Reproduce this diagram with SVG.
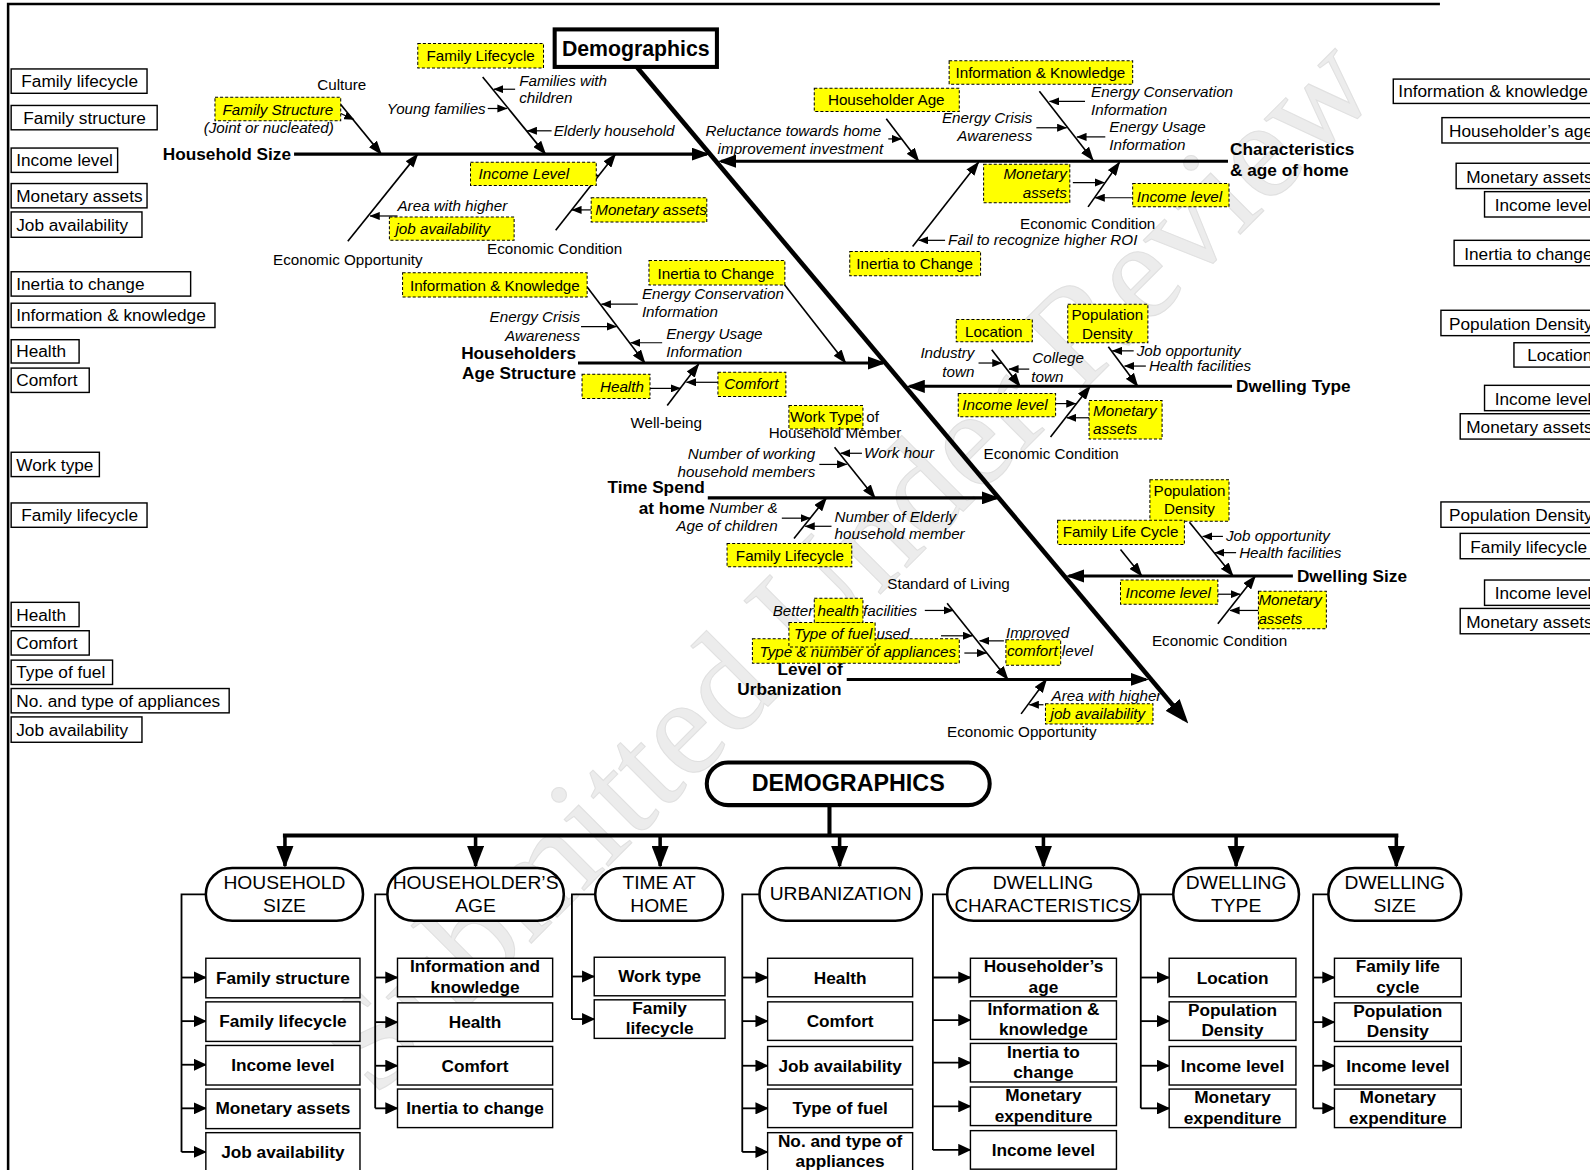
<svg xmlns="http://www.w3.org/2000/svg" width="1590" height="1170" viewBox="0 0 1590 1170">
<defs>
<style>
text{font-family:"Liberation Sans",Arial,Helvetica,sans-serif;fill:#000}
.f{font-size:15px}
.i{font-style:italic}
.b{font-weight:bold;font-size:17px}
.m{text-anchor:middle}
.e{text-anchor:end}
.y{fill:#ffff00;stroke:#000;stroke-width:1;stroke-dasharray:3 2}
.sb{fill:#fff;stroke:#000;stroke-width:1.4}
.st{font-size:17px}
.bb{fill:#fff;stroke:#000;stroke-width:1.4}
.bt{font-size:17px;font-weight:bold;text-anchor:middle}
.pill{fill:#fff;stroke:#000;stroke-width:2.5}
.pt{font-size:19px;text-anchor:middle}
.bone{stroke:#000;stroke-width:1.6;fill:none;marker-end:url(#ah)}
.sa{stroke:#000;stroke-width:1.2;fill:none;marker-end:url(#as)}
.br{stroke:#000;stroke-width:3;fill:none;marker-end:url(#am)}
.tr{stroke:#000;stroke-width:1.8;fill:none}
.ta{stroke:#000;stroke-width:1.8;fill:none;marker-end:url(#ab)}
.da{stroke:#000;stroke-width:3.5;fill:none;marker-end:url(#ad)}
</style>
<marker id="al" markerUnits="userSpaceOnUse" markerWidth="24" markerHeight="18" refX="18" refY="9" orient="auto"><path d="M0,0 L24,9 L0,18 z" fill="#000"/></marker>
<marker id="am" markerUnits="userSpaceOnUse" markerWidth="18" markerHeight="13" refX="15" refY="6.5" orient="auto"><path d="M0,0 L18,6.5 L0,13 z" fill="#000"/></marker>
<marker id="ah" markerUnits="userSpaceOnUse" markerWidth="14" markerHeight="10" refX="13" refY="5" orient="auto"><path d="M0,0 L14,5 L0,10 z" fill="#000"/></marker>
<marker id="as" markerUnits="userSpaceOnUse" markerWidth="10" markerHeight="8" refX="9.5" refY="4" orient="auto"><path d="M0,0 L10,4 L0,8 z" fill="#000"/></marker>
<marker id="ab" markerUnits="userSpaceOnUse" markerWidth="13" markerHeight="12" refX="12" refY="6" orient="auto"><path d="M0,0 L13,6 L0,12 z" fill="#000"/></marker>
<marker id="ad" markerUnits="userSpaceOnUse" markerWidth="22" markerHeight="17" refX="20" refY="8.5" orient="auto"><path d="M0,0 L22,8.5 L0,17 z" fill="#000"/></marker>
</defs>
<rect width="1590" height="1170" fill="#fff"/>
<g transform="scale(1.01403)">
<text x="0" y="0" transform="translate(866,588) rotate(-45)" text-anchor="middle" style="font-family:'Liberation Serif',serif;font-size:138px;fill:#ececec;stroke:#e0e0e0;stroke-width:1">Submitted Under Review</text>
<path d="M8,1170 V4 H1420" fill="none" stroke="#000" stroke-width="2.5"/>

<g id="connectors">
<line x1="628" y1="66" x2="1168" y2="709" stroke="#000" stroke-width="4.5" marker-end="url(#al)"/>
<line class="br" x1="290" y1="152" x2="697" y2="152"/>
<line class="br" x1="1211" y1="159" x2="711" y2="159"/>
<line class="br" x1="570" y1="358" x2="871" y2="358"/>
<line class="br" x1="1215" y1="381" x2="897" y2="381"/>
<line class="br" x1="698" y1="491" x2="983" y2="491"/>
<line class="br" x1="1275" y1="568" x2="1054" y2="568"/>
<line class="br" x1="835" y1="670" x2="1130" y2="670"/>
<line class="bone" x1="336" y1="103" x2="376" y2="152"/>
<line class="bone" x1="476" y1="76" x2="538" y2="152"/>
<line class="bone" x1="343" y1="238" x2="412" y2="152"/>
<line class="bone" x1="548" y1="227" x2="607" y2="152"/>
<line class="bone" x1="874" y1="117" x2="906" y2="159"/>
<line class="bone" x1="1025" y1="90" x2="1078" y2="158"/>
<line class="bone" x1="900" y1="243" x2="965" y2="160"/>
<line class="bone" x1="1073" y1="204" x2="1104" y2="160"/>
<line class="bone" x1="579" y1="283" x2="636" y2="358"/>
<line class="bone" x1="766" y1="271" x2="834" y2="358"/>
<line class="bone" x1="658" y1="400" x2="689" y2="359"/>
<line class="bone" x1="978" y1="345" x2="1006" y2="381"/>
<line class="bone" x1="1093" y1="342" x2="1122" y2="381"/>
<line class="bone" x1="1036" y1="431" x2="1075" y2="381"/>
<line class="bone" x1="823" y1="441" x2="863" y2="491"/>
<line class="bone" x1="783" y1="531" x2="815" y2="491"/>
<line class="bone" x1="1105" y1="542" x2="1126" y2="568"/>
<line class="bone" x1="1173" y1="515" x2="1216" y2="568"/>
<line class="bone" x1="1201" y1="615" x2="1238" y2="568"/>
<line class="bone" x1="934" y1="595" x2="994" y2="670"/>
<line class="bone" x1="1007" y1="704" x2="1032" y2="670"/>
<line class="sa" x1="336" y1="112" x2="349" y2="118"/>
<line class="sa" x1="508" y1="88" x2="487" y2="88"/>
<line class="sa" x1="481" y1="107" x2="500" y2="107"/>
<line class="sa" x1="544" y1="129" x2="520" y2="129"/>
<line class="sa" x1="392" y1="213" x2="365" y2="213"/>
<line class="sa" x1="563" y1="173" x2="590" y2="173"/>
<line class="sa" x1="583" y1="207" x2="564" y2="207"/>
<line class="sa" x1="876" y1="137" x2="889" y2="137"/>
<line class="sa" x1="1070" y1="100" x2="1035" y2="100"/>
<line class="sa" x1="1022" y1="126" x2="1052" y2="126"/>
<line class="sa" x1="1090" y1="135" x2="1062" y2="135"/>
<line class="sa" x1="932" y1="237" x2="906" y2="237"/>
<line class="sa" x1="1058" y1="180" x2="1089" y2="180"/>
<line class="sa" x1="1117" y1="195" x2="1080" y2="195"/>
<line class="sa" x1="629" y1="300" x2="593" y2="300"/>
<line class="sa" x1="573" y1="322" x2="608" y2="322"/>
<line class="sa" x1="653" y1="338" x2="622" y2="338"/>
<line class="sa" x1="641" y1="383" x2="671" y2="383"/>
<line class="sa" x1="708" y1="377" x2="677" y2="377"/>
<line class="sa" x1="965" y1="358" x2="988" y2="358"/>
<line class="sa" x1="1015" y1="364" x2="995" y2="364"/>
<line class="sa" x1="1118" y1="346" x2="1097" y2="346"/>
<line class="sa" x1="1130" y1="361" x2="1109" y2="361"/>
<line class="sa" x1="1041" y1="398" x2="1061" y2="398"/>
<line class="sa" x1="1074" y1="412" x2="1052" y2="412"/>
<line class="sa" x1="850" y1="447" x2="829" y2="447"/>
<line class="sa" x1="808" y1="458" x2="835" y2="458"/>
<line class="sa" x1="771" y1="511" x2="799" y2="511"/>
<line class="sa" x1="820" y1="519" x2="794" y2="519"/>
<line class="sa" x1="1206" y1="529" x2="1186" y2="529"/>
<line class="sa" x1="1219" y1="545" x2="1198" y2="545"/>
<line class="sa" x1="1201" y1="586" x2="1223" y2="586"/>
<line class="sa" x1="1241" y1="602" x2="1213" y2="602"/>
<line class="sa" x1="912" y1="602" x2="940" y2="602"/>
<line class="sa" x1="928" y1="627" x2="959" y2="627"/>
<line class="sa" x1="951" y1="644" x2="973" y2="644"/>
<line class="sa" x1="990" y1="632" x2="966" y2="632"/>
<line class="sa" x1="1029" y1="695" x2="1015" y2="695"/>
<path d="M818,794 V824 M279,824 H1379" fill="none" stroke="#000" stroke-width="4"/>
<line class="da" x1="281" y1="824" x2="281" y2="854"/>
<line class="da" x1="469" y1="824" x2="469" y2="854"/>
<line class="da" x1="651" y1="824" x2="651" y2="854"/>
<line class="da" x1="828" y1="824" x2="828" y2="854"/>
<line class="da" x1="1029" y1="824" x2="1029" y2="854"/>
<line class="da" x1="1219" y1="824" x2="1219" y2="854"/>
<line class="da" x1="1377" y1="824" x2="1377" y2="854"/>
<path class="tr" d="M203,882 H179 V1136"/>
<line class="ta" x1="179" y1="964" x2="203" y2="964"/>
<line class="ta" x1="179" y1="1007" x2="203" y2="1007"/>
<line class="ta" x1="179" y1="1050" x2="203" y2="1050"/>
<line class="ta" x1="179" y1="1093" x2="203" y2="1093"/>
<line class="ta" x1="179" y1="1136" x2="203" y2="1136"/>
<path class="tr" d="M382,882 H370 V1093"/>
<line class="ta" x1="370" y1="964" x2="392" y2="964"/>
<line class="ta" x1="370" y1="1008" x2="392" y2="1008"/>
<line class="ta" x1="370" y1="1051" x2="392" y2="1051"/>
<line class="ta" x1="370" y1="1093" x2="392" y2="1093"/>
<path class="tr" d="M587,882 H564 V1005"/>
<line class="ta" x1="564" y1="963" x2="586" y2="963"/>
<line class="ta" x1="564" y1="1005" x2="586" y2="1005"/>
<path class="tr" d="M749,882 H732 V1136"/>
<line class="ta" x1="732" y1="964" x2="757" y2="964"/>
<line class="ta" x1="732" y1="1007" x2="757" y2="1007"/>
<line class="ta" x1="732" y1="1051" x2="757" y2="1051"/>
<line class="ta" x1="732" y1="1093" x2="757" y2="1093"/>
<line class="ta" x1="732" y1="1136" x2="757" y2="1136"/>
<path class="tr" d="M934,882 H920 V1134"/>
<line class="ta" x1="920" y1="964" x2="957" y2="964"/>
<line class="ta" x1="920" y1="1006" x2="957" y2="1006"/>
<line class="ta" x1="920" y1="1048" x2="957" y2="1048"/>
<line class="ta" x1="920" y1="1091" x2="957" y2="1091"/>
<line class="ta" x1="920" y1="1134" x2="957" y2="1134"/>
<path class="tr" d="M1157,882 H1125 V1093"/>
<line class="ta" x1="1125" y1="964" x2="1153" y2="964"/>
<line class="ta" x1="1125" y1="1007" x2="1153" y2="1007"/>
<line class="ta" x1="1125" y1="1051" x2="1153" y2="1051"/>
<line class="ta" x1="1125" y1="1093" x2="1153" y2="1093"/>
<path class="tr" d="M1310,882 H1295 V1093"/>
<line class="ta" x1="1295" y1="964" x2="1316" y2="964"/>
<line class="ta" x1="1295" y1="1008" x2="1316" y2="1008"/>
<line class="ta" x1="1295" y1="1051" x2="1316" y2="1051"/>
<line class="ta" x1="1295" y1="1093" x2="1316" y2="1093"/>
</g>

<g id="n-demographics"><rect x="547" y="29" width="160" height="37" fill="#fff" stroke="#000" stroke-width="4"/><text x="627" y="55" class="m" style="font-size:21px;font-weight:bold">Demographics</text></g>

<g id="b-household-size">
<text x="287" y="158" class="b e">Household Size</text>
<text x="337" y="89" class="f m">Culture</text>
<g id="hs-family-structure"><rect class="y" x="212" y="96" width="124" height="23"/><text x="274" y="113" class="f i m">Family Structure</text></g>
<text x="265" y="131" class="f i m">(Joint or nucleated)</text>
<g id="hs-family-lifecycle"><rect class="y" x="412" y="43" width="124" height="24"/><text x="474" y="60" class="f m">Family Lifecycle</text></g>
<text x="512" y="85" class="f i">Families with</text>
<text x="512" y="102" class="f i">children</text>
<text x="479" y="112" class="f i e">Young families</text>
<text x="546" y="134" class="f i">Elderly household</text>
<text x="343" y="261" class="f m">Economic Opportunity</text>
<text x="392" y="208" class="f i">Area with higher</text>
<g id="hs-job"><rect class="y" x="384" y="214" width="123" height="23"/><text x="390" y="231" class="f i">job availability</text></g>
<text x="547" y="250" class="f m">Economic Condition</text>
<g id="hs-income"><rect class="y" x="464" y="160" width="124" height="23"/><text x="472" y="177" class="f i">Income Level</text></g>
<g id="hs-monetary"><rect class="y" x="583" y="195" width="114" height="24"/><text x="587" y="212" class="f i">Monetary assets</text></g>
</g>

<g id="b-characteristics">
<text x="1213" y="153" class="b">Characteristics</text>
<text x="1213" y="174" class="b">&amp; age of home</text>
<g id="ch-age"><rect class="y" x="803" y="87" width="143" height="23"/><text x="874" y="104" class="f m">Householder Age</text></g>
<text x="869" y="134" class="f i e">Reluctance towards home</text>
<text x="871" y="152" class="f i e">improvement investment</text>
<g id="ch-info"><rect class="y" x="936" y="60" width="181" height="23"/><text x="1026" y="77" class="f m">Information &amp; Knowledge</text></g>
<text x="1076" y="96" class="f i">Energy Conservation</text>
<text x="1076" y="113" class="f i">Information</text>
<text x="1018" y="121" class="f i e">Energy Crisis</text>
<text x="1018" y="139" class="f i e">Awareness</text>
<text x="1094" y="130" class="f i">Energy Usage</text>
<text x="1094" y="148" class="f i">Information</text>
<g id="ch-inertia"><rect class="y" x="838" y="248" width="129" height="24"/><text x="902" y="265" class="f m">Inertia to Change</text></g>
<text x="935" y="242" class="f i">Fail to recognize higher ROI</text>
<g id="ch-monetary"><rect class="y" x="970" y="162" width="85" height="38"/><text x="1052" y="177" class="f i e">Monetary</text><text x="1052" y="195" class="f i e">assets</text></g>
<g id="ch-income"><rect class="y" x="1117" y="181" width="95" height="23"/><text x="1121" y="199" class="f i">Income level</text></g>
<text x="1006" y="226" class="f">Economic Condition</text>
</g>

<g id="b-householders-age">
<text x="568" y="354" class="b e">Householders</text>
<text x="568" y="374" class="b e">Age Structure</text>
<g id="ha-info"><rect class="y" x="397" y="269" width="182" height="24"/><text x="488" y="287" class="f m">Information &amp; Knowledge</text></g>
<text x="633" y="295" class="f i">Energy Conservation</text>
<text x="633" y="313" class="f i">Information</text>
<text x="572" y="318" class="f i e">Energy Crisis</text>
<text x="572" y="336" class="f i e">Awareness</text>
<text x="657" y="334" class="f i">Energy Usage</text>
<text x="657" y="352" class="f i">Information</text>
<g id="ha-inertia"><rect class="y" x="640" y="257" width="134" height="24"/><text x="706" y="275" class="f m">Inertia to Change</text></g>
<g id="ha-health"><rect class="y" x="574" y="369" width="67" height="24"/><text x="635" y="387" class="f i e">Health</text></g>
<g id="ha-comfort"><rect class="y" x="708" y="367" width="67" height="24"/><text x="741" y="384" class="f i m">Comfort</text></g>
<text x="657" y="422" class="f m">Well-being</text>
</g>

<g id="b-dwelling-type">
<text x="1219" y="387" class="b">Dwelling Type</text>
<g id="dt-location"><rect class="y" x="943" y="315" width="75" height="22"/><text x="980" y="332" class="f m">Location</text></g>
<text x="961" y="353" class="f i e">Industry</text>
<text x="961" y="372" class="f i e">town</text>
<text x="1018" y="358" class="f i">College</text>
<text x="1017" y="377" class="f i">town</text>
<g id="dt-pop"><rect class="y" x="1053" y="300" width="79" height="38"/><text x="1092" y="316" class="f m">Population</text><text x="1092" y="334" class="f m">Density</text></g>
<text x="1121" y="351" class="f i">Job opportunity</text>
<text x="1133" y="366" class="f i">Health facilities</text>
<g id="dt-income"><rect class="y" x="945" y="388" width="96" height="23"/><text x="949" y="404" class="f i">Income level</text></g>
<g id="dt-monetary"><rect class="y" x="1074" y="395" width="72" height="38"/><text x="1078" y="410" class="f i">Monetary</text><text x="1078" y="428" class="f i">assets</text></g>
<text x="970" y="453" class="f">Economic Condition</text>
</g>

<g id="b-time-spend">
<text x="695" y="486" class="b e">Time Spend</text>
<text x="695" y="507" class="b e">at home</text>
<g id="ts-work"><rect class="y" x="778" y="400" width="73" height="23"/><text x="779" y="416" class="f">Work Type of</text></g>
<text x="758" y="432" class="f">Household Member</text>
<text x="852" y="452" class="f i">Work hour</text>
<text x="804" y="453" class="f i e">Number of working</text>
<text x="804" y="470" class="f i e">household members</text>
<text x="767" y="506" class="f i e">Number &amp;</text>
<text x="767" y="524" class="f i e">Age of children</text>
<text x="823" y="515" class="f i">Number of Elderly</text>
<text x="823" y="532" class="f i">household member</text>
<g id="ts-lifecycle"><rect class="y" x="717" y="536" width="123" height="23"/><text x="779" y="553" class="f m">Family Lifecycle</text></g>
</g>

<g id="b-dwelling-size">
<text x="1279" y="574" class="b">Dwelling Size</text>
<g id="ds-pop"><rect class="y" x="1134" y="473" width="78" height="41"/><text x="1173" y="489" class="f m">Population</text><text x="1173" y="507" class="f m">Density</text></g>
<g id="ds-lifecycle"><rect class="y" x="1043" y="513" width="125" height="24"/><text x="1105" y="530" class="f m">Family Life Cycle</text></g>
<text x="1209" y="534" class="f i">Job opportunity</text>
<text x="1222" y="550" class="f i">Health facilities</text>
<g id="ds-income"><rect class="y" x="1105" y="572" width="96" height="24"/><text x="1110" y="590" class="f i">Income level</text></g>
<g id="ds-monetary"><rect class="y" x="1241" y="583" width="67" height="37"/><text x="1241" y="597" class="f i">Monetary</text><text x="1241" y="615" class="f i">assets</text></g>
<text x="1136" y="637" class="f">Economic Condition</text>
</g>

<g id="b-urbanization">
<text x="831" y="666" class="b e">Level of</text>
<text x="830" y="685" class="b e">Urbanization</text>
<text x="875" y="581" class="f">Standard of Living</text>
<g id="ur-appl"><rect class="y" x="742" y="630" width="204" height="24"/></g>
<g id="ur-fuel"><rect class="y" x="778" y="614" width="85" height="24"/></g>
<g id="ur-health"><rect class="y" x="803" y="590" width="48" height="24"/></g>
<text x="762" y="607" class="f i">Better health facilities</text>
<text x="783" y="630" class="f i">Type of fuel used</text>
<text x="749" y="648" class="f i">Type &amp; number of appliances</text>
<text x="992" y="629" class="f i">Improved</text>
<g id="ur-comfort"><rect class="y" x="992" y="631" width="54" height="25"/><text x="993" y="647" class="f i">comfort level</text></g>
<text x="1037" y="691" class="f i">Area with higher</text>
<g id="ur-job"><rect class="y" x="1031" y="694" width="106" height="20"/><text x="1036" y="709" class="f i">job availability</text></g>
<text x="934" y="727" class="f">Economic Opportunity</text>
</g>

<g id="left-boxes">
<g><rect class="sb" x="11" y="68" width="134" height="24"/><text x="21" y="86" class="st">Family lifecycle</text></g>
<g><rect class="sb" x="11" y="104" width="144" height="24"/><text x="23" y="122" class="st">Family structure</text></g>
<g><rect class="sb" x="11" y="146" width="105" height="24"/><text x="16" y="164" class="st">Income level</text></g>
<g><rect class="sb" x="11" y="181" width="134" height="24"/><text x="16" y="199" class="st">Monetary assets</text></g>
<g><rect class="sb" x="11" y="209" width="129" height="25"/><text x="16" y="228" class="st">Job availability</text></g>
<g><rect class="sb" x="11" y="268" width="177" height="24"/><text x="16" y="286" class="st">Inertia to change</text></g>
<g><rect class="sb" x="11" y="299" width="201" height="24"/><text x="16" y="317" class="st">Information &amp; knowledge</text></g>
<g><rect class="sb" x="11" y="335" width="67" height="23"/><text x="16" y="352" class="st">Health</text></g>
<g><rect class="sb" x="11" y="363" width="77" height="24"/><text x="16" y="381" class="st">Comfort</text></g>
<g><rect class="sb" x="11" y="446" width="87" height="24"/><text x="16" y="464" class="st">Work type</text></g>
<g><rect class="sb" x="11" y="496" width="134" height="24"/><text x="21" y="514" class="st">Family lifecycle</text></g>
<g><rect class="sb" x="11" y="594" width="67" height="24"/><text x="16" y="612" class="st">Health</text></g>
<g><rect class="sb" x="11" y="622" width="77" height="24"/><text x="16" y="640" class="st">Comfort</text></g>
<g><rect class="sb" x="11" y="651" width="100" height="24"/><text x="16" y="669" class="st">Type of fuel</text></g>
<g><rect class="sb" x="11" y="679" width="215" height="24"/><text x="16" y="697" class="st">No. and type of appliances</text></g>
<g><rect class="sb" x="11" y="707" width="129" height="25"/><text x="16" y="726" class="st">Job availability</text></g>
</g>

<g id="right-boxes">
<g><rect class="sb" x="1374" y="78" width="230" height="24"/><text x="1379" y="96" class="st">Information &amp; knowledge</text></g>
<g><rect class="sb" x="1422" y="116" width="200" height="25"/><text x="1429" y="135" class="st">Householder’s age</text></g>
<g><rect class="sb" x="1436" y="161" width="200" height="25"/><text x="1446" y="180" class="st">Monetary assets</text></g>
<g><rect class="sb" x="1464" y="189" width="200" height="25"/><text x="1474" y="208" class="st">Income level</text></g>
<g><rect class="sb" x="1434" y="237" width="200" height="25"/><text x="1444" y="256" class="st">Inertia to change</text></g>
<g><rect class="sb" x="1421" y="306" width="200" height="25"/><text x="1429" y="325" class="st">Population Density</text></g>
<g><rect class="sb" x="1493" y="338" width="200" height="24"/><text x="1506" y="356" class="st">Location</text></g>
<g><rect class="sb" x="1464" y="380" width="200" height="25"/><text x="1474" y="399" class="st">Income level</text></g>
<g><rect class="sb" x="1440" y="408" width="200" height="25"/><text x="1446" y="427" class="st">Monetary assets</text></g>
<g><rect class="sb" x="1421" y="495" width="200" height="25"/><text x="1429" y="514" class="st">Population Density</text></g>
<g><rect class="sb" x="1440" y="526" width="200" height="25"/><text x="1450" y="545" class="st">Family lifecycle</text></g>
<g><rect class="sb" x="1464" y="572" width="200" height="25"/><text x="1474" y="591" class="st">Income level</text></g>
<g><rect class="sb" x="1440" y="600" width="200" height="25"/><text x="1446" y="619" class="st">Monetary assets</text></g>
</g>

<g id="n-root"><rect x="697" y="752" width="279" height="42" rx="21" fill="#fff" stroke="#000" stroke-width="4"/><text x="836.5" y="780" class="m" style="font-size:23px;font-weight:bold">DEMOGRAPHICS</text></g>

<g id="p-household-size"><rect class="pill" x="203" y="856" width="155" height="52" rx="26"/><text x="280.5" y="877" class="pt">HOUSEHOLD</text><text x="280.5" y="899" class="pt">SIZE</text></g>
<g id="p-householders-age"><rect class="pill" x="382" y="856" width="174" height="52" rx="26"/><text x="469" y="877" class="pt">HOUSEHOLDER’S</text><text x="469" y="899" class="pt">AGE</text></g>
<g id="p-time"><rect class="pill" x="587" y="856" width="126" height="52" rx="26"/><text x="650" y="877" class="pt">TIME AT</text><text x="650" y="899" class="pt">HOME</text></g>
<g id="p-urban"><rect class="pill" x="749" y="856" width="160" height="52" rx="26"/><text x="829" y="888" class="pt">URBANIZATION</text></g>
<g id="p-dwchar"><rect class="pill" x="934" y="856" width="189" height="52" rx="26"/><text x="1028.5" y="877" class="pt">DWELLING</text><text x="1028.5" y="899" class="pt" style="font-size:18.5px">CHARACTERISTICS</text></g>
<g id="p-dwtype"><rect class="pill" x="1157" y="856" width="124" height="52" rx="26"/><text x="1219" y="877" class="pt">DWELLING</text><text x="1219" y="899" class="pt">TYPE</text></g>
<g id="p-dwsize"><rect class="pill" x="1310" y="856" width="131" height="52" rx="26"/><text x="1375.5" y="877" class="pt">DWELLING</text><text x="1375.5" y="899" class="pt">SIZE</text></g>

<g id="hs-items">
<g><rect class="bb" x="203" y="945" width="152" height="39"/><text x="279" y="970" class="bt">Family structure</text></g>
<g><rect class="bb" x="203" y="988" width="152" height="39"/><text x="279" y="1013" class="bt">Family lifecycle</text></g>
<g><rect class="bb" x="203" y="1031" width="152" height="39"/><text x="279" y="1056" class="bt">Income level</text></g>
<g><rect class="bb" x="203" y="1074" width="152" height="39"/><text x="279" y="1099" class="bt">Monetary assets</text></g>
<g><rect class="bb" x="203" y="1117" width="152" height="42"/><text x="279" y="1142" class="bt">Job availability</text></g>
</g>
<g id="ha-items">
<g><rect class="bb" x="392" y="945" width="153" height="38"/><text x="468.5" y="959" class="bt">Information and</text><text x="468.5" y="979" class="bt">knowledge</text></g>
<g><rect class="bb" x="392" y="989" width="153" height="38"/><text x="468.5" y="1014" class="bt">Health</text></g>
<g><rect class="bb" x="392" y="1032" width="153" height="38"/><text x="468.5" y="1057" class="bt">Comfort</text></g>
<g><rect class="bb" x="392" y="1074" width="153" height="38"/><text x="468.5" y="1099" class="bt">Inertia to change</text></g>
</g>
<g id="th-items">
<g><rect class="bb" x="586" y="944" width="129" height="38"/><text x="650.5" y="968" class="bt">Work type</text></g>
<g><rect class="bb" x="586" y="986" width="129" height="38"/><text x="650.5" y="1000" class="bt">Family</text><text x="650.5" y="1020" class="bt">lifecycle</text></g>
</g>
<g id="ur-items">
<g><rect class="bb" x="757" y="945" width="143" height="38"/><text x="828.5" y="970" class="bt">Health</text></g>
<g><rect class="bb" x="757" y="988" width="143" height="38"/><text x="828.5" y="1013" class="bt">Comfort</text></g>
<g><rect class="bb" x="757" y="1032" width="143" height="38"/><text x="828.5" y="1057" class="bt">Job availability</text></g>
<g><rect class="bb" x="757" y="1074" width="143" height="38"/><text x="828.5" y="1099" class="bt">Type of fuel</text></g>
<g><rect class="bb" x="757" y="1117" width="143" height="42"/><text x="828.5" y="1131" class="bt">No. and type of</text><text x="828.5" y="1151" class="bt">appliances</text></g>
</g>
<g id="dc-items">
<g><rect class="bb" x="957" y="945" width="144" height="38"/><text x="1029" y="959" class="bt">Householder’s</text><text x="1029" y="979" class="bt">age</text></g>
<g><rect class="bb" x="957" y="987" width="144" height="38"/><text x="1029" y="1001" class="bt">Information &amp;</text><text x="1029" y="1021" class="bt">knowledge</text></g>
<g><rect class="bb" x="957" y="1029" width="144" height="38"/><text x="1029" y="1043" class="bt">Inertia to</text><text x="1029" y="1063" class="bt">change</text></g>
<g><rect class="bb" x="957" y="1072" width="144" height="38"/><text x="1029" y="1086" class="bt">Monetary</text><text x="1029" y="1106" class="bt">expenditure</text></g>
<g><rect class="bb" x="957" y="1115" width="144" height="38"/><text x="1029" y="1140" class="bt">Income level</text></g>
</g>
<g id="dt-items">
<g><rect class="bb" x="1153" y="945" width="125" height="38"/><text x="1215.5" y="970" class="bt">Location</text></g>
<g><rect class="bb" x="1153" y="988" width="125" height="38"/><text x="1215.5" y="1002" class="bt">Population</text><text x="1215.5" y="1022" class="bt">Density</text></g>
<g><rect class="bb" x="1153" y="1032" width="125" height="38"/><text x="1215.5" y="1057" class="bt">Income level</text></g>
<g><rect class="bb" x="1153" y="1074" width="125" height="38"/><text x="1215.5" y="1088" class="bt">Monetary</text><text x="1215.5" y="1108" class="bt">expenditure</text></g>
</g>
<g id="ds-items">
<g><rect class="bb" x="1316" y="945" width="125" height="38"/><text x="1378.5" y="959" class="bt">Family life</text><text x="1378.5" y="979" class="bt">cycle</text></g>
<g><rect class="bb" x="1316" y="989" width="125" height="38"/><text x="1378.5" y="1003" class="bt">Population</text><text x="1378.5" y="1023" class="bt">Density</text></g>
<g><rect class="bb" x="1316" y="1032" width="125" height="38"/><text x="1378.5" y="1057" class="bt">Income level</text></g>
<g><rect class="bb" x="1316" y="1074" width="125" height="38"/><text x="1378.5" y="1088" class="bt">Monetary</text><text x="1378.5" y="1108" class="bt">expenditure</text></g>
</g>
</g>
</svg>
